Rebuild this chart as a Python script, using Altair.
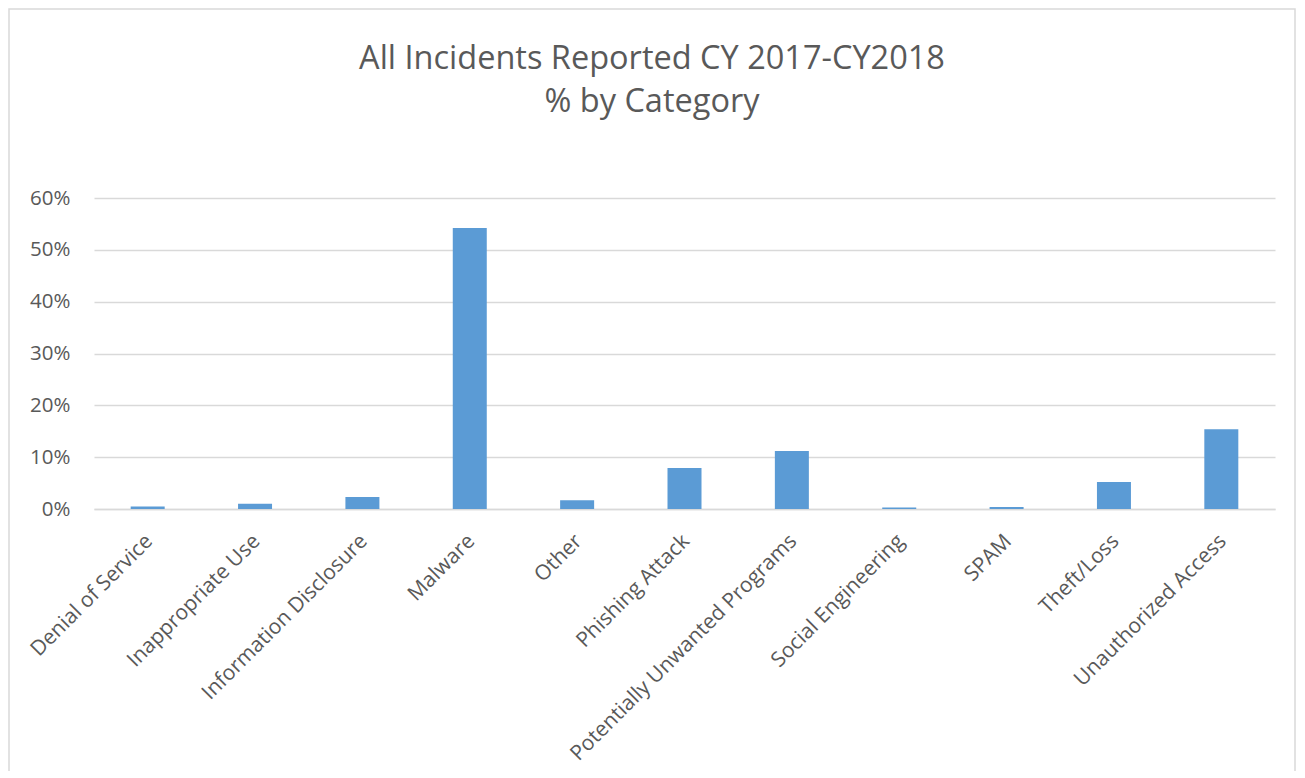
import altair as alt
import pandas as pd

categories = ["Denial of Service", "Inappropriate Use", "Information Disclosure", "Malware",
              "Other", "Phishing Attack", "Potentially Unwanted Programs", "Social Engineering",
              "SPAM", "Theft/Loss", "Unauthorized Access"]
values = [0.005, 0.010, 0.023, 0.542, 0.017, 0.079, 0.112, 0.003, 0.004, 0.052, 0.154]

df = pd.DataFrame({"category": categories, "value": values})

W, H = 1181, 311
FONT = "Open Sans"
GREY = "#595959"

bars = alt.Chart(df).mark_bar(color="#5B9BD5", size=34).encode(
    x=alt.X("category:N", sort=categories, title=None,
            axis=alt.Axis(labelAngle=-45, labelFont=FONT, labelFontSize=21, labelColor=GREY,
                          ticks=False, domain=True, domainColor="#D9D9D9", domainWidth=1.5,
                          labelPadding=21, labelOffset=-6, labelLimit=400)),
    y=alt.Y("value:Q", title=None, scale=alt.Scale(domain=[0, 0.6]),
            axis=alt.Axis(format=".0%", values=[0, 0.1, 0.2, 0.3, 0.4, 0.5, 0.6],
                          labelFont=FONT, labelFontSize=20.5, labelColor=GREY,
                          ticks=False, domain=False, gridColor="#D9D9D9", gridWidth=1.5,
                          labelPadding=24)),
)

border = alt.Chart(pd.DataFrame({"a": [0]})).mark_rect(
    fill=None, stroke="#D9D9D9", strokeWidth=1.5, clip=False
).encode(
    x=alt.value(-85), x2=alt.value(W + 20),
    y=alt.value(-189), y2=alt.value(H + 290),
)

chart = alt.layer(border, bars).properties(
    width=W, height=H,
    background="white",
    title=alt.TitleParams(["All Incidents Reported CY 2017-CY2018", "% by Category"],
                          font=FONT, fontSize=32.5, fontWeight="normal", color=GREY,
                          anchor="middle", frame="bounds", offset=-110, lineHeight=43),
    autosize=alt.AutoSizeParams(type="none"),
    padding={"left": 86, "top": 190, "right": 22, "bottom": 262},
).configure_view(strokeWidth=0, stroke="transparent")

chart.save("out.html", embed_options={"renderer": "svg", "actions": False})
